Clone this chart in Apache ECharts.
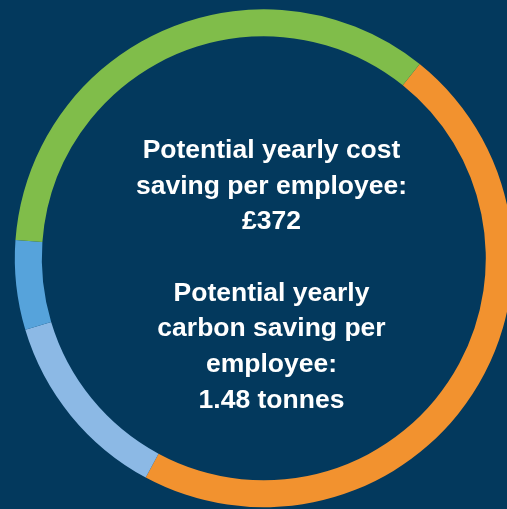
<!DOCTYPE html>
<html>
<head>
<meta charset="utf-8">
<script src="https://cdn.jsdelivr.net/npm/echarts@6/dist/echarts.min.js"></script>
<style>
html,body{margin:0;padding:0;background:#03395d;}
#chart{width:507px;height:509px;}
</style>
</head>
<body>
<div id="chart"></div>
<script>
var categories = ['Orange segment', 'Light blue segment', 'Blue segment', 'Green segment'];
var values = [47.1, 12.5, 5.8, 34.6];
var colors = ['#f2922f', '#8cb9e5', '#56a3db', '#80bd4a'];
var centerLines = [
  'Potential yearly cost',
  'saving per employee:',
  '£372',
  '',
  'Potential yearly',
  'carbon saving per',
  'employee:',
  '1.48 tonnes'
];

var chart = echarts.init(document.getElementById('chart'));
chart.setOption({
  backgroundColor: '#03395d',
  animation: false,
  series: [{
    type: 'pie',
    center: [263.8, 258.3],
    radius: [222, 249],
    startAngle: 51.25,
    clockwise: true,
    silent: true,
    label: {show: false},
    labelLine: {show: false},
    itemStyle: {borderWidth: 0},
    data: categories.map(function (c, i) {
      return {name: c, value: values[i], itemStyle: {color: colors[i]}};
    })
  }],
  graphic: [{
    type: 'text',
    x: 271.5,
    y: 275.5,
    style: {
      text: centerLines.join('\n'),
      fill: '#ffffff',
      fontFamily: 'Liberation Sans',
      fontWeight: 'bold',
      fontSize: 26.5,
      lineHeight: 35.7,
      align: 'center',
      verticalAlign: 'middle'
    }
  }]
});
</script>
</body>
</html>
